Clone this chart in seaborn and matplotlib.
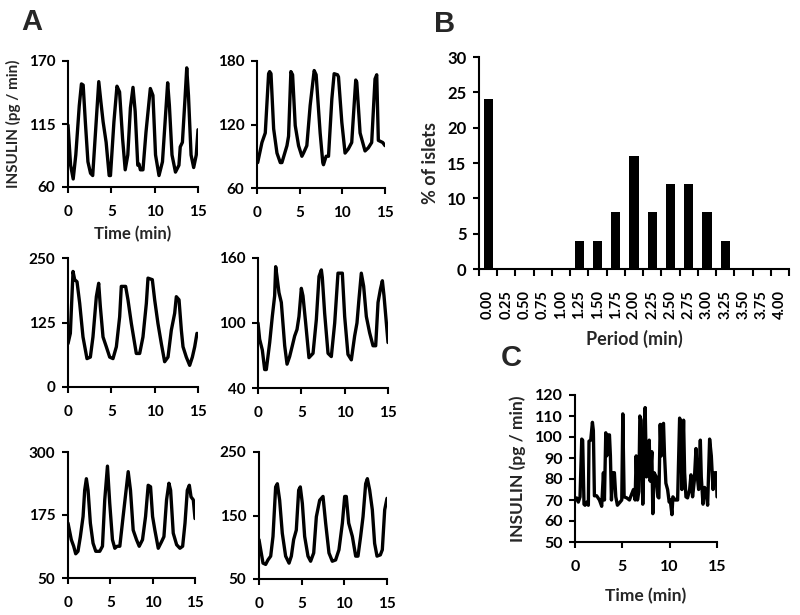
import numpy as np
import pandas as pd
import seaborn as sns
import matplotlib.pyplot as plt

# ---- panel A traces (time in min, insulin in pg/min) ----
a1_t = [0, 0.3, 0.6, 0.9, 1.3, 1.55, 1.75, 2.0, 2.3, 2.6, 2.85, 3.2, 3.55, 3.8, 4.05, 4.4, 4.75, 4.9,
        5.3, 5.65, 5.95, 6.3, 6.6, 6.9, 7.2, 7.5, 7.75, 8.05, 8.2, 8.35, 8.65, 9.0, 9.5, 9.8, 10.1,
        10.5, 10.9, 11.5, 11.7, 12.0, 12.4, 12.8, 12.95, 13.2, 13.5, 13.7, 13.9, 14.2, 14.5, 14.8, 15.0]
a1_v = [114, 79, 67, 88, 131, 150, 149, 117, 82, 72, 70, 111, 152, 134, 117, 99, 70, 70,
        117, 148, 143, 102, 75, 88, 129, 147, 126, 79, 80, 75, 75, 108, 146, 140, 88,
        70, 82, 151, 131, 88, 73, 79, 95, 99, 137, 164, 140, 88, 77, 88, 110]

a2_t = [0.08, 0.58, 0.97, 1.36, 1.48, 1.64, 1.95, 2.34, 2.73, 2.92, 3.51, 3.7, 3.97, 4.17, 4.48,
        4.87, 5.26, 5.45, 5.84, 6.23, 6.7, 6.93, 7.4, 7.71, 7.79, 8.1, 8.38, 8.77, 9.04, 9.43, 9.55,
        9.94, 10.32, 10.71, 11.1, 11.57, 11.69, 12.08, 12.66, 13.05, 13.44, 13.83, 14.03, 14.22,
        14.73, 15.0]
a2_v = [84, 103, 112, 168, 170, 168, 116, 93, 84, 84, 100, 109, 170, 167, 119,
        100, 90, 93, 100, 138, 171, 167, 112, 84, 82, 90, 90, 144, 168, 167, 165,
        122, 93, 97, 103, 162, 160, 112, 95, 98, 103, 163, 167, 105,
        103, 100]

a3_t = [0, 0.27, 0.58, 0.77, 1.04, 1.35, 1.73, 2.19, 2.58, 2.88, 3.27, 3.54, 3.73, 4.04, 4.42,
        4.81, 5.19, 5.58, 5.96, 6.15, 6.65, 6.92, 7.31, 7.88, 8.27, 8.65, 9.04, 9.23, 9.73, 10.0,
        10.38, 10.77, 11.15, 11.54, 11.92, 12.31, 12.5, 12.81, 13.08, 13.27, 13.65, 14.04, 14.35,
        14.62, 14.88]
a3_v = [84, 104, 224, 208, 204, 162, 97, 55, 58, 97, 175, 201, 156, 97, 78,
        58, 55, 78, 136, 195, 195, 169, 123, 65, 65, 97, 162, 211, 208, 169,
        123, 84, 49, 58, 110, 143, 175, 169, 110, 78, 58, 42, 58,
        78, 104]

a4_t = [0, 0.19, 0.5, 0.77, 0.96, 1.35, 1.65, 1.92, 2.04, 2.19, 2.42, 2.69, 3.08, 3.35, 3.65,
        3.96, 4.23, 4.5, 4.73, 5.0, 5.19, 5.5, 5.88, 6.35, 6.73, 7.04, 7.31, 7.42, 7.69, 8.08,
        8.46, 8.85, 9.23, 9.73, 10.0, 10.38, 10.77, 11.15, 11.42, 11.65, 11.92, 12.19, 12.5,
        12.88, 13.27, 13.58, 13.85, 14.12, 14.35, 14.54, 14.81, 15.0]
a4_v = [100, 85, 75, 57, 57, 82, 106, 125, 152, 143, 128, 119, 79, 62, 69,
        79, 88, 94, 106, 132, 125, 100, 68, 72, 103, 143, 149, 142, 109, 72,
        69, 100, 146, 146, 106, 71, 66, 88, 100, 122, 146, 134, 106,
        91, 79, 79, 119, 131, 139, 125, 100, 82]

a5_t = [0, 0.39, 0.67, 0.91, 1.18, 1.46, 1.78, 1.97, 2.17, 2.37, 2.64, 2.96, 3.28, 3.75, 4.07,
        4.34, 4.66, 4.93, 5.25, 5.53, 5.8, 6.12, 6.51, 7.11, 7.38, 7.7, 8.09, 8.41, 8.8, 9.16,
        9.47, 9.75, 9.99, 10.26, 10.66, 11.05, 11.33, 11.64, 11.92, 12.12, 12.43, 12.83, 13.22,
        13.54, 13.82, 14.09, 14.33, 14.53, 14.8, 15.0]
a5_v = [159, 126, 113, 98, 103, 132, 172, 224, 247, 224, 159, 119, 103, 103, 113,
        205, 272, 198, 126, 109, 113, 113, 172, 261, 224, 145, 126, 113, 126, 172,
        234, 231, 172, 145, 109, 122, 132, 205, 238, 224, 139, 116, 109,
        113, 159, 224, 234, 211, 205, 168]

a6_t = [0, 0.2, 0.47, 0.78, 1.05, 1.37, 1.64, 1.95, 2.15, 2.42, 2.73, 3.12, 3.52, 3.79, 4.06,
        4.37, 4.65, 4.84, 5.08, 5.35, 5.74, 6.05, 6.41, 6.72, 7.11, 7.5, 7.81, 8.2, 8.59, 8.98,
        9.37, 9.77, 10.04, 10.23, 10.51, 10.94, 11.33, 11.6, 11.91, 12.19, 12.5, 12.7, 12.97,
        13.28, 13.55, 13.83, 14.22, 14.45, 14.73, 15.0]
a6_v = [112, 96, 75, 73, 80, 86, 117, 195, 200, 174, 122, 86, 75, 86, 112,
        127, 190, 195, 169, 117, 86, 78, 91, 148, 174, 180, 138, 91, 78, 80,
        96, 138, 180, 180, 138, 117, 86, 86, 117, 148, 200, 208, 190,
        159, 106, 86, 88, 96, 159, 177]

# ---- panel B histogram ----
periods = ['0.00', '0.25', '0.50', '0.75', '1.00', '1.25', '1.50', '1.75', '2.00',
           '2.25', '2.50', '2.75', '3.00', '3.25', '3.50', '3.75', '4.00']
pct_islets = [24, 0, 0, 0, 0, 4, 4, 8, 16, 8, 12, 12, 8, 4, 0, 0, 0]

# ---- panel C trace ----
c_t = [0, 0.18, 0.35, 0.53, 0.71, 0.81, 0.95, 1.06, 1.24, 1.41, 1.48, 1.66, 1.84, 1.94, 2.05,
       2.29, 2.58, 2.82, 3.0, 3.11, 3.25, 3.35, 3.46, 3.64, 3.74, 3.85, 3.99, 4.16, 4.31, 4.48,
       4.76, 4.94, 5.05, 5.19, 5.47, 5.75, 6.0, 6.18, 6.35, 6.46, 6.6, 6.74, 6.85, 6.99, 7.16,
       7.31, 7.41, 7.55, 7.69, 7.84, 7.94, 8.12, 8.22, 8.36, 8.58, 8.75, 8.86, 9.0, 9.11, 9.21,
       9.35, 9.46, 9.6, 9.78, 9.95, 10.06, 10.24, 10.34, 10.59, 10.84, 11.05, 11.19, 11.29,
       11.47, 11.58, 11.72, 11.89, 12.11, 12.25, 12.42, 12.6, 12.78, 12.88, 13.06, 13.24,
       13.34, 13.52, 13.69, 13.87, 14.01, 14.22, 14.4, 14.58, 14.75, 14.93, 15.0]
c_v = [70, 71, 69, 71.5, 99, 98.5, 68, 67.5, 69, 67.5, 98, 98.5, 107, 103, 72,
       72, 70, 67, 83, 70, 102, 91, 101, 101, 91, 70, 83, 83, 71.5, 67.5,
       69, 70, 111, 71.5, 71, 70, 73, 75, 70, 91, 70, 74, 110, 108, 68,
       94, 114, 81, 82, 98.5, 79, 93, 63.5, 83, 81, 71.5, 71, 106, 91, 105,
       106.5, 91, 78, 75, 69, 70, 63, 71.5, 70, 70, 109, 107, 75,
       108, 83, 71.5, 71, 75, 82, 71.5, 79, 94.5, 83, 75, 98.5,
       81, 68, 76, 73, 67.5, 99, 91, 75, 83, 83, 71.5]

W, H = 800, 615
LW = 2.4


def box(left, top, right, bottom):
    return [left / W, 1 - bottom / H, (right - left) / W, (bottom - top) / H]


def style_axes(ax, lsize=11):
    sns.despine(ax=ax)
    for s in ['left', 'bottom']:
        ax.spines[s].set_linewidth(1.5)
    ax.tick_params(axis='both', width=1.5, length=4, labelsize=lsize)
    ax.tick_params(axis='x', pad=9)
    ax.tick_params(axis='y', pad=5)
    ax.set_xlabel('')
    ax.set_ylabel('')


def trace_panel(fig, rect, t, v, yticks, lsize=11):
    ax = fig.add_axes(rect)
    sns.lineplot(x=t, y=v, ax=ax, color='black', lw=LW, sort=False, estimator=None)
    ax.set_xlim(0, 15)
    ax.set_ylim(yticks[0], yticks[-1])
    ax.set_xticks([0, 5, 10, 15])
    ax.set_yticks(yticks)
    style_axes(ax, lsize)
    return ax


sns.set_style('ticks')
plt.rcParams['font.family'] = ['Lato', 'DejaVu Sans']
plt.rcParams['font.weight'] = 'bold'
plt.rcParams['axes.labelweight'] = 'bold'
plt.rcParams['axes.edgecolor'] = 'black'
plt.rcParams['xtick.color'] = 'black'
plt.rcParams['ytick.color'] = 'black'

fig = plt.figure(figsize=(8, 6.15), dpi=100)

ax1 = trace_panel(fig, box(68, 61, 198, 187), a1_t, a1_v, [60, 115, 170])
ax1.set_ylabel('INSULIN (pg / min)', fontsize=11, labelpad=6)
ax1.set_xlabel('Time (min)', fontsize=12, labelpad=5)
trace_panel(fig, box(257, 61, 385, 188), a2_t, a2_v, [60, 120, 180])
trace_panel(fig, box(68, 258, 198, 387), a3_t, a3_v, [0, 125, 250])
trace_panel(fig, box(258, 258, 388, 388), a4_t, a4_v, [40, 100, 160])
trace_panel(fig, box(68, 452, 195, 578), a5_t, a5_v, [50, 175, 300])
trace_panel(fig, box(259, 452, 387, 579), a6_t, a6_v, [50, 150, 250])

# panel B
axb = fig.add_axes(box(479, 57, 789, 269))
sns.barplot(x=periods, y=pct_islets, order=periods, color='black', width=0.5,
            linewidth=0, ax=axb)
axb.set_xlim(-0.5, len(periods) - 0.5)
axb.set_ylim(0, 30)
axb.set_yticks(range(0, 31, 5))
style_axes(axb, 12)
axb.set_xticks(range(len(periods)))
axb.set_xticklabels(periods, rotation=90, fontsize=10.5)
axb.set_xticks(np.arange(-0.5, len(periods), 1), minor=True)
axb.tick_params(axis='x', which='major', length=0, pad=15)
axb.tick_params(axis='x', which='minor', length=5, width=1.5)
axb.set_ylabel('% of islets', fontsize=13, labelpad=6)
axb.set_xlabel('Period (min)', fontsize=13, labelpad=8)

# panel C
axc = trace_panel(fig, box(575, 395, 717, 542), c_t, c_v, list(range(50, 121, 10)), lsize=11.5)
axc.set_ylabel('INSULIN (pg / min)', fontsize=12.5, labelpad=6)
axc.set_xlabel('Time (min)', fontsize=12.5, labelpad=10)

# panel letters
for letter, x, y in [('A', 32, 22), ('B', 445, 24), ('C', 511, 358)]:
    fig.text(x / W, 1 - y / H, letter, fontsize=21, fontweight='bold',
             family='Liberation Sans', ha='center', va='center')

fig.savefig('out.png', dpi=100)
